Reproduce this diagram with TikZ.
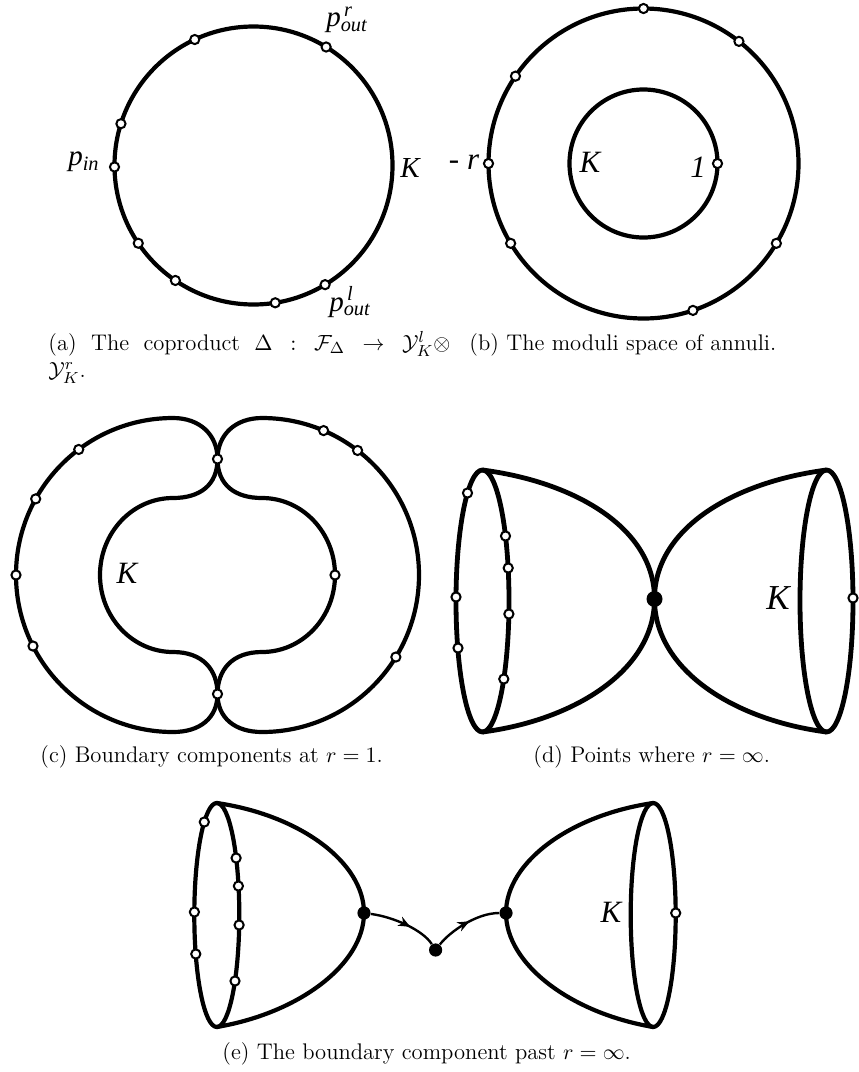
\documentclass[tikz,border=0pt]{standalone}
\usepackage{fontspec}
\newfontfamily\tms{Liberation Serif}
\usetikzlibrary{arrows.meta,decorations.markings}
\newcommand\mylobe{(217.5,459) .. controls (217.5,435) and (200,418) .. (173,418)
  arc[start angle=270,end angle=90,radius=157]
  .. controls (200,732) and (217.5,718) .. (217.5,694)
  .. controls (217.5,670) and (203,652) .. (173,652)
  arc[start angle=90,end angle=270,x radius=73,y radius=77]
  .. controls (200,498) and (217.5,485) .. cycle}
\newcommand\myfunnelD{(482.5,470) .. controls (575,482) and (654.5,528) .. (654.5,599)
  .. controls (654.5,670) and (575,720) .. (482.5,732)}
\newcommand\myfunnelE{(216.8,803) .. controls (299.5,815) and (364,862) .. (364,913)
  .. controls (364,964) and (299.5,1013) .. (216.8,1027)}
\begin{document}
\begin{tikzpicture}[x=0.5pt,y=-0.5pt,
  curve/.style={line width=2.1pt, line join=round},
  curveD/.style={line width=2.4pt, line join=round},
  odot/.style={draw=black, fill=white, line width=1pt},
  fdot/.style={circle, fill=black, inner sep=0pt, minimum size=#1},
  arr/.style={line width=1.2pt},
  midarrow/.style={postaction={decorate}, decoration={markings,
     mark=at position #1 with {\arrow{Stealth[length=6pt,width=5pt]}}}},
  lbl/.style={font=\tms\itshape\fontsize{#1}{#1}\selectfont, inner sep=0pt},
  captext/.style={font=\fontsize{11.3}{13.6}\selectfont, inner sep=0pt}]
\useasboundingbox (0,0) rectangle (858,1072);

% (a)
\coordinate (ca) at (253.5,165.5);
\draw[curve] (ca) circle[radius=139];
\foreach \a in {115,58.5,162.5,180.6,214,235.8,279,301}
  \draw[odot] (ca) ++(-\a:139) circle[radius=2.3pt];
\node[lbl=14.5] (pr) at (347,20) {p\rlap{\textsuperscript{\,r}}\textsubscript{out}};
\node[lbl=14.5] (pin) at (84,162) {p\textsubscript{in}};
\node[lbl=14.5] (Ka) at (410,168) {K};
\node[lbl=14.5] (pl) at (350,302) {p\rlap{\textsuperscript{\,l}}\textsubscript{out}};
\node[captext, anchor=base west] (capa1) at (48,350.5)
  {\makebox[201pt][s]{(a) The coproduct $\Delta:\mathcal{F}_\Delta\to\mathcal{Y}^l_K\otimes$}};
\node[captext, anchor=base west] (capa2) at (48,377) {$\mathcal{Y}^r_K$.};

% (b)
\coordinate (cb) at (643.5,163.5);
\draw[curve] (cb) circle[radius=155];
\draw[curve] (cb) circle[radius=74];
\foreach \a in {90,52,145.7,180,211,329,288.6}
  \draw[odot] (cb) ++(-\a:155) circle[radius=2.3pt];
\draw[odot] (cb) ++(0:74) circle[radius=2.3pt];
\node[lbl=15.5] (mr) at (464,162) {- r};
\node[lbl=15.5] (Kb) at (590,162) {K};
\node[lbl=15.5] (one) at (698,167) {1};
\node[captext, anchor=base west] (capb) at (469,350.5) {(b) The moduli space of annuli.};

% (c)
\draw[curve] \mylobe;
\begin{scope}[shift={(435,0)}, xscale=-1]
  \draw[curve] \mylobe;
\end{scope}
\foreach \a in {233.1,209,180,153.1}
  \draw[odot] (173,575) ++(\a:157) circle[radius=2.3pt];
\foreach \a in {293.1,307.5,31.5}
  \draw[odot] (262,575) ++(\a:157) circle[radius=2.3pt];
\draw[odot] (335,575) circle[radius=2.3pt];
\draw[odot] (217.5,459) circle[radius=2.3pt];
\draw[odot] (217.5,694) circle[radius=2.3pt];
\node[lbl=15.5] (Kc) at (127,573) {K};
\node[captext, anchor=base west] (capc) at (40,762) {(c) Boundary components at $r=1$.};

% (d)
\draw[curveD] (482.5,601) ellipse[x radius=26.5, y radius=131];
\draw[curveD] \myfunnelD;
\begin{scope}[shift={(1309,0)}, xscale=-1]
  \draw[curveD] (482.5,601) ellipse[x radius=26.5, y radius=131];
  \draw[curveD] \myfunnelD;
\end{scope}
\foreach \p in {(467.5,493),(456,597),(458,648),(505.5,536),(508.2,568),(508.9,614),(503.8,679),(853,598)}
  \draw[odot] \p circle[radius=2.3pt];
\node[fdot=8pt] (dJ) at (654.5,599) {};
\node[lbl=17.5] (Kd) at (778,598) {K};
\node[captext, anchor=base west] (capd) at (533,762) {(d) Points where $r=\infty$.};

% (e)
\draw[curve] (216.8,915) ellipse[x radius=22.5, y radius=112];
\draw[curve] \myfunnelE;
\begin{scope}[shift={(870,0)}, xscale=-1]
  \draw[curve] (216.8,915) ellipse[x radius=22.5, y radius=112];
  \draw[curve] \myfunnelE;
\end{scope}
\foreach \p in {(204.3,822),(194.4,912),(195.8,954),(236.1,858),(238.4,886),(239.1,925),(235,981),(675.7,913)}
  \draw[odot] \p circle[radius=2.3pt];
\node[fdot=6.6pt] (eL) at (364,913) {};
\node[fdot=6.6pt] (eR) at (506,913) {};
\node[fdot=6.6pt] (eM) at (435.6,950) {};
\draw[arr, midarrow=0.6] (eL) .. controls (393.8,917) and (422.7,930) .. (eM);
\draw[arr, midarrow=0.55] (eM) .. controls (449.5,932) and (476.2,913) .. (eR);
\node[lbl=15.5] (Ke) at (611,912) {K};
\node[captext, anchor=base west] (cape) at (222,1059) {(e) The boundary component past $r=\infty$.};
\end{tikzpicture}
\end{document}
